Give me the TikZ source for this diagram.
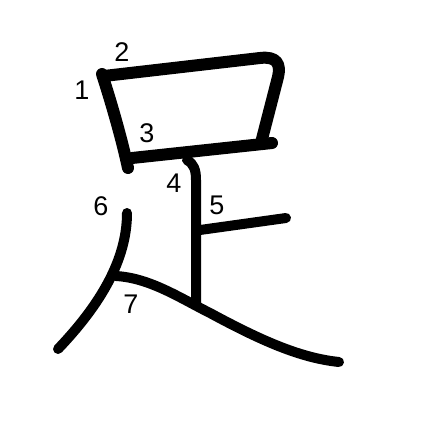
\documentclass[tikz,border=0pt]{standalone}
\usepackage{fontspec}
\setmainfont{Liberation Sans}
\begin{document}
\begin{tikzpicture}[x=1pt,y=-1pt,
  stroke/.style={line width=12pt,line cap=round,line join=round},
  thin stroke/.style={line width=10pt,line cap=round,line join=round},
  num/.style={font=\fontsize{27}{27}\selectfont,inner sep=0pt}]
\useasboundingbox[fill=white] (0,0) rectangle (447,447);
% stroke 1
\draw[stroke] (102,74) .. controls (112,105) and (122,140) .. (128,168);
% stroke 2
\draw[stroke] (104,76) -- (260,58) .. controls (277,56) and (281,64) .. (278,77) -- (262,139);
% stroke 3
\draw[stroke] (132,158) -- (272,143);
% stroke 4
\draw[thin stroke] (187,160) .. controls (194,164) and (196,170) .. (196,180) -- (196,304);
% stroke 5
\draw[thin stroke] (200,230) -- (286,218);
% stroke 6
\draw[thin stroke] (127,213) .. controls (127,260) and (100,305) .. (58,349);
% stroke 7
\draw[thin stroke] (116,276) .. controls (150,278) and (180,298) .. (210,313) .. controls (260,340) and (300,358) .. (339,362);
% labels
\node[num] (n1) at (82,90) {1};
\node[num] (n2) at (122,52) {2};
\node[num] (n3) at (147,133) {3};
\node[num] (n4) at (174,183) {4};
\node[num] (n5) at (217,205) {5};
\node[num] (n6) at (101,206) {6};
\node[num] (n7) at (131,304) {7};
\end{tikzpicture}
\end{document}
